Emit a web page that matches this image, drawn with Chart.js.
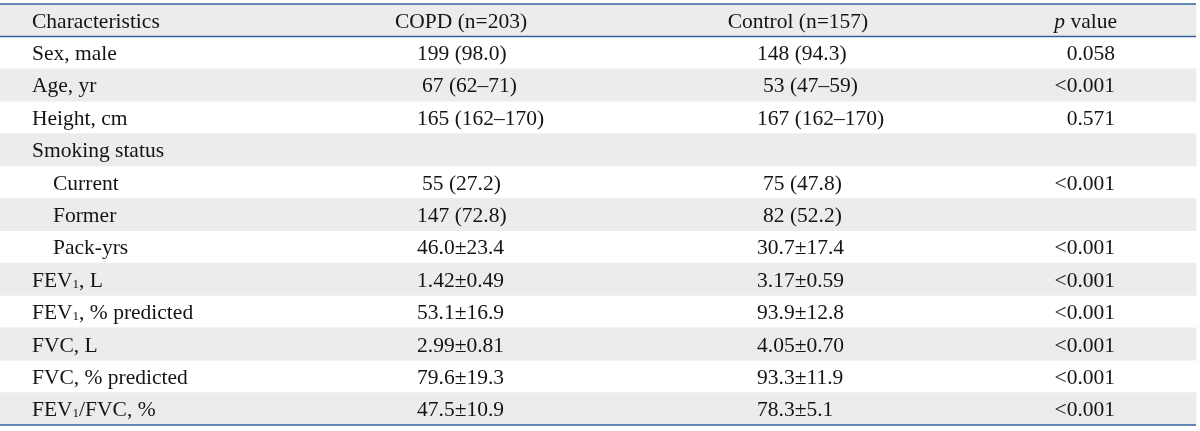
<!DOCTYPE html>
<html>
<head>
<meta charset="utf-8">
<script src="https://cdn.jsdelivr.net/npm/chart.js@4"></script>
<style>
  body { margin: 0; background: #fff; }
  canvas { display: block; }
</style>
</head>
<body>
<canvas id="table_chart" width="1200" height="431"></canvas>
<script>
// table content
const headers = ["Characteristics", "COPD (n=203)", "Control (n=157)", "p value"];
const characteristics = [
    "Sex, male", "Age, yr", "Height, cm", "Smoking status",
    "Current", "Former", "Pack-yrs",
    "FEV₁, L", "FEV₁, % predicted", "FVC, L", "FVC, % predicted", "FEV₁/FVC, %"
];
const indent_level = [0, 0, 0, 0, 1, 1, 1, 0, 0, 0, 0, 0];
const copd_values = [
    "199 (98.0)", "67 (62–71)", "165 (162–170)", "",
    "55 (27.2)", "147 (72.8)", "46.0±23.4",
    "1.42±0.49", "53.1±16.9", "2.99±0.81", "79.6±19.3", "47.5±10.9"
];
const control_values = [
    "148 (94.3)", "53 (47–59)", "167 (162–170)", "",
    "75 (47.8)", "82 (52.2)", "30.7±17.4",
    "3.17±0.59", "93.9±12.8", "4.05±0.70", "93.3±11.9", "78.3±5.1"
];
const p_values = [
    "0.058", "<0.001", "0.571", "",
    "<0.001", "", "<0.001",
    "<0.001", "<0.001", "<0.001", "<0.001", "<0.001"
];

const row_labels = [headers[0]].concat(characteristics);

const FONT = "Liberation Serif";
const FONT_SIZE = 21.5;
const TEXT_COLOR = "#141414";
const LINE_COLOR = "#33619f";
const BAND_COLOR = "#ececec";

function splitSegments(text, italic_first){
    let segs = [];
    let buf = "";
    for(const ch of text){
        if(ch === "₁"){
            if(buf) segs.push({t: buf});
            segs.push({t: "1", sub: true});
            buf = "";
        } else {
            buf += ch;
        }
    }
    if(buf) segs.push({t: buf});
    if(italic_first && segs.length){
        const first = segs[0].t;
        segs.splice(0, 1, {t: first[0], italic: true}, {t: first.slice(1)});
    }
    return segs;
}

function fontFor(seg){
    if(seg.sub) return "13px '" + FONT + "'";
    return (seg.italic ? "italic " : "") + FONT_SIZE + "px '" + FONT + "'";
}

function drawCell(ctx, text, px, py, align, italic_first){
    if(!text) return;
    const segs = splitSegments(text, italic_first);
    let total = 0;
    for(const s of segs){
        ctx.font = fontFor(s);
        s.w = ctx.measureText(s.t).width;
        total += s.w;
    }
    let cx = px;
    if(align === "center") cx = px - total / 2;
    if(align === "right") cx = px - total;
    for(const s of segs){
        ctx.font = fontFor(s);
        ctx.fillText(s.t, cx, py + (s.sub ? 1 : 0));
        cx += s.w;
    }
}

// two-digit counts sit one notch to the right in the source table
function leadShift(text, amount){
    return /^\d\d\s/.test(text) ? amount : 0;
}

const tablePlugin = {
    id: "tableText",
    afterDatasetsDraw(chart){
        const ctx = chart.ctx;
        const xs = chart.scales.x;
        const ys = chart.scales.y;
        const area = chart.chartArea;
        ctx.save();
        ctx.textBaseline = "alphabetic";
        ctx.fillStyle = TEXT_COLOR;

        // header
        const hy = ys.getPixelForValue(0) + 7.5;
        drawCell(ctx, headers[0], xs.getPixelForValue(32), hy, "left");
        drawCell(ctx, headers[1], xs.getPixelForValue(461), hy, "center");
        drawCell(ctx, headers[2], xs.getPixelForValue(798), hy, "center");
        drawCell(ctx, headers[3], xs.getPixelForValue(1117), hy, "right", true);

        // body rows
        for(let i = 0; i < characteristics.length; i++){
            const py = ys.getPixelForValue(i + 1) + 7.5;
            drawCell(ctx, characteristics[i], xs.getPixelForValue(32 + 21 * indent_level[i]), py, "left");
            drawCell(ctx, copd_values[i], xs.getPixelForValue(417 + leadShift(copd_values[i], 5)), py, "left");
            drawCell(ctx, control_values[i], xs.getPixelForValue(757 + leadShift(control_values[i], 6)), py, "left");
            drawCell(ctx, p_values[i], xs.getPixelForValue(1115), py, "right");
        }

        // rules: top, under header, bottom
        const x0 = xs.getPixelForValue(0);
        const x1 = xs.getPixelForValue(1196);
        const header_bottom = (ys.getPixelForValue(0) + ys.getPixelForValue(1)) / 2;
        ctx.strokeStyle = LINE_COLOR;
        ctx.lineWidth = 1.5;
        for(const ly of [area.top, header_bottom, area.bottom]){
            ctx.beginPath();
            ctx.moveTo(x0, ly);
            ctx.lineTo(x1, ly);
            ctx.stroke();
        }
        ctx.restore();
    }
};

new Chart(document.getElementById("table_chart").getContext("2d"), {
    type: "bar",
    data: {
        labels: row_labels,
        datasets: [{
            label: "rows",
            data: row_labels.map(function(){ return [0, 1196]; }),
            backgroundColor: function(c){ return c.dataIndex % 2 === 0 ? BAND_COLOR : "rgba(0,0,0,0)"; },
            borderWidth: 0,
            borderSkipped: false,
            barPercentage: 1,
            categoryPercentage: 1
        }]
    },
    options: {
        indexAxis: "y",
        responsive: false,
        animation: false,
        events: [],
        layout: { padding: { top: 4, bottom: 6, left: 0, right: 0 } },
        plugins: { legend: { display: false }, tooltip: { enabled: false } },
        scales: {
            x: { type: "linear", min: 0, max: 1200, display: false },
            y: { type: "category", display: false, offset: true }
        }
    },
    plugins: [tablePlugin]
});
</script>
</body>
</html>
